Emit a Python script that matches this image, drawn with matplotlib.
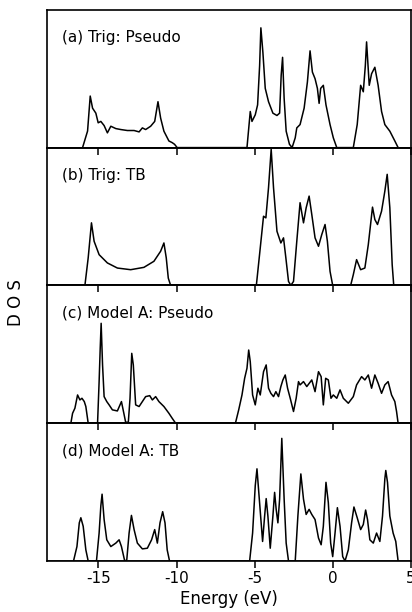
import matplotlib

matplotlib.use("Agg")
import matplotlib.pyplot as plt

plt.rcParams["axes.unicode_minus"] = False


# energies (eV) and DOS (fraction of panel height)
trig_pseudo_e = [
    -16.02, -15.7, -15.53, -15.38, -15.17, -15.02, -14.85, -14.64, -14.43, -14.21,
    -13.89, -13.57, -13.15, -12.72, -12.4, -12.19, -11.98, -11.66, -11.4, -11.19,
    -11.02, -10.81, -10.49, -10.28, -10.13, -9.96,
    -5.49, -5.28, -5.17, -4.96, -4.81, -4.68, -4.6, -4.47, -4.32, -4.11,
    -3.83, -3.57, -3.4, -3.3, -3.21, -3.11, -2.98, -2.77, -2.6, -2.4,
    -2.3, -2.09, -1.83, -1.62, -1.45, -1.3, -1.13, -0.98, -0.87, -0.77,
    -0.6, -0.43, -0.17, 0.04, 0.26, 1.32, 1.57, 1.79, 1.96, 2.09,
    2.17, 2.34, 2.49, 2.7, 2.91, 3.13, 3.34, 3.66, 3.98, 4.19,
]
trig_pseudo_dos = [
    0.0, 0.12, 0.374, 0.286, 0.25, 0.18, 0.19, 0.16, 0.107, 0.155,
    0.138, 0.131, 0.124, 0.124, 0.114, 0.143, 0.131, 0.155, 0.19, 0.333,
    0.214, 0.119, 0.048, 0.036, 0.024, 0.0,
    0.0, 0.262, 0.19, 0.238, 0.31, 0.595, 0.869, 0.69, 0.43, 0.333,
    0.25, 0.233, 0.25, 0.524, 0.655, 0.357, 0.119, 0.024, 0.0, 0.071,
    0.143, 0.167, 0.286, 0.476, 0.702, 0.548, 0.5, 0.43, 0.321, 0.43,
    0.452, 0.31, 0.167, 0.071, 0.0, 0.0, 0.167, 0.452, 0.405, 0.595,
    0.767, 0.452, 0.536, 0.583, 0.452, 0.262, 0.167, 0.119, 0.048, 0.0,
]

trig_tb_e = [
    -15.87, -15.66, -15.45, -15.28, -14.96, -14.43, -13.79, -12.94, -12.09, -11.45,
    -11.02, -10.81, -10.66, -10.53, -10.38,
    -4.89, -4.64, -4.43, -4.28, -4.11, -3.94, -3.79, -3.57, -3.32, -3.15,
    -3.0, -2.83, -2.68, -2.51, -2.3, -2.09, -1.87, -1.7, -1.51, -1.34,
    -1.13, -0.91, -0.7, -0.49, -0.34, -0.17, 0.0,
    1.15, 1.32, 1.53, 1.79, 2.06, 2.28, 2.55, 2.7, 2.87, 3.13,
    3.34, 3.49, 3.66, 3.81, 3.91,
]
trig_tb_dos = [
    0.0, 0.2, 0.454, 0.32, 0.223, 0.163, 0.126, 0.114, 0.131, 0.175,
    0.248, 0.308, 0.2, 0.053, 0.0,
    0.0, 0.272, 0.502, 0.49, 0.709, 0.988, 0.709, 0.393, 0.308, 0.345,
    0.2, 0.029, 0.0, 0.029, 0.32, 0.6, 0.454, 0.563, 0.648, 0.515,
    0.345, 0.284, 0.369, 0.442, 0.32, 0.102, 0.0,
    0.0, 0.078, 0.187, 0.114, 0.126, 0.296, 0.568, 0.478, 0.442, 0.539,
    0.684, 0.806, 0.563, 0.15, 0.0,
]

model_pseudo_e = [
    -16.77, -16.66, -16.51, -16.34, -16.19, -16.06, -15.91, -15.81, -15.66,
    -15.06, -14.96, -14.89, -14.83, -14.74, -14.64, -14.47, -14.32, -14.11, -13.79,
    -13.53, -13.4, -13.26, -13.09, -12.98, -12.87, -12.77, -12.62, -12.4, -12.19,
    -11.98, -11.72, -11.55, -11.34, -11.13, -10.81, -10.49, -10.28, -10.06,
    -6.23, -6.02, -5.81, -5.64, -5.49, -5.38, -5.28, -5.13, -4.96, -4.79,
    -4.64, -4.43, -4.26, -4.11, -3.96, -3.79, -3.64, -3.47, -3.32, -3.19,
    -3.04, -2.89, -2.72, -2.51, -2.34, -2.19, -2.09, -1.87, -1.66, -1.34,
    -1.13, -0.91, -0.74, -0.6, -0.45, -0.28, -0.11, 0.04, 0.26, 0.47,
    0.68, 1.0, 1.32, 1.53, 1.85, 2.06, 2.28, 2.49, 2.7, 2.91,
    3.13, 3.34, 3.55, 3.77, 3.98, 4.09, 4.19,
]
model_pseudo_dos = [
    0.0, 0.072, 0.109, 0.205, 0.169, 0.181, 0.157, 0.121, 0.0,
    0.0, 0.302, 0.543, 0.725, 0.423, 0.193, 0.157, 0.133, 0.097, 0.089,
    0.157, 0.085, 0.007, 0.007, 0.181, 0.507, 0.423, 0.133, 0.121, 0.157,
    0.193, 0.2, 0.169, 0.193, 0.157, 0.121, 0.072, 0.036, 0.0,
    0.0, 0.097, 0.205, 0.326, 0.399, 0.531, 0.447, 0.205, 0.133, 0.254,
    0.205, 0.374, 0.423, 0.254, 0.217, 0.193, 0.229, 0.193, 0.266, 0.314,
    0.35, 0.254, 0.181, 0.085, 0.181, 0.302, 0.278, 0.302, 0.266, 0.314,
    0.229, 0.374, 0.338, 0.133, 0.326, 0.314, 0.181, 0.205, 0.181, 0.242,
    0.181, 0.145, 0.193, 0.278, 0.338, 0.314, 0.35, 0.254, 0.35, 0.29,
    0.217, 0.278, 0.302, 0.205, 0.157, 0.085, 0.0,
]

model_tb_e = [
    -16.6, -16.38, -16.23, -16.13, -15.98, -15.81, -15.66,
    -15.13, -14.96, -14.85, -14.77, -14.64, -14.47, -14.21, -13.89, -13.68, -13.53,
    -13.32, -13.19, -13.04, -12.89, -12.72, -12.51, -12.19, -11.87, -11.6, -11.4,
    -11.23, -11.06, -10.89, -10.74, -10.6, -10.45,
    -5.32, -5.13, -4.96, -4.85, -4.7, -4.49, -4.36, -4.26, -4.15, -4.0,
    -3.83, -3.72, -3.62, -3.51, -3.4, -3.26, -3.11, -2.98, -2.83,
    -2.4, -2.23, -2.04, -1.87, -1.7, -1.51, -1.34, -1.13, -0.91, -0.74,
    -0.6, -0.43, -0.28, -0.13, 0.0, 0.15, 0.3, 0.47, 0.64, 0.79,
    1.0, 1.21, 1.36, 1.57, 1.79, 1.96, 2.11, 2.23, 2.38, 2.6,
    2.81, 3.02, 3.19, 3.34, 3.4, 3.51, 3.66, 3.87, 4.04, 4.19,
]
model_tb_dos = [
    0.0, 0.105, 0.277, 0.314, 0.252, 0.081, 0.0,
    0.0, 0.203, 0.4, 0.485, 0.301, 0.154, 0.105, 0.13, 0.154, 0.105,
    0.0, 0.007, 0.203, 0.331, 0.228, 0.13, 0.088, 0.093, 0.154, 0.228,
    0.13, 0.277, 0.358, 0.277, 0.081, 0.0,
    0.0, 0.203, 0.547, 0.669, 0.449, 0.142, 0.326, 0.453, 0.326, 0.093,
    0.326, 0.498, 0.375, 0.277, 0.449, 0.89, 0.449, 0.13, 0.0,
    0.0, 0.326, 0.632, 0.449, 0.338, 0.375, 0.338, 0.301, 0.167, 0.118,
    0.252, 0.571, 0.424, 0.13, 0.032, 0.203, 0.387, 0.252, 0.032, 0.0,
    0.081, 0.277, 0.392, 0.314, 0.228, 0.265, 0.37, 0.301, 0.154, 0.13,
    0.203, 0.142, 0.326, 0.596, 0.657, 0.571, 0.326, 0.203, 0.142, 0.0,
]

panel_titles = ["(a) Trig: Pseudo", "(b) Trig: TB", "(c) Model A: Pseudo", "(d) Model A: TB"]
energy_ticks = [-15, -10, -5, 0, 5]


def main():
    fig = plt.figure(figsize=(4.12, 6.12), dpi=100)
    gs = fig.add_gridspec(4, 1, left=0.114, right=0.997, bottom=0.0833, top=0.984, hspace=0)
    series = [
        (trig_pseudo_e, trig_pseudo_dos),
        (trig_tb_e, trig_tb_dos),
        (model_pseudo_e, model_pseudo_dos),
        (model_tb_e, model_tb_dos),
    ]
    axes = []
    for i, ((e, dos), title) in enumerate(zip(series, panel_titles)):
        ax = fig.add_subplot(gs[i, 0])
        ax.patch.set_visible(False)
        ax.plot(e, dos, color="black", lw=1.1)
        # flat baseline across the whole panel
        ax.axhline(0, color="black", lw=1.1)
        ax.set_xlim(-18.3, 5.0)
        ax.set_ylim(0, 1)
        ax.set_yticks([])
        ax.set_xticks(energy_ticks)
        ax.tick_params(axis="x", direction="out", length=5, width=1.1, labelsize=11, pad=2)
        if i < 3:
            ax.tick_params(labelbottom=False)
        for sp in ax.spines.values():
            sp.set_linewidth(1.2)
        ax.text(0.04, 0.8, title, transform=ax.transAxes, fontsize=11, va="center", ha="left")
        axes.append(ax)

    axes[-1].set_xlabel("Energy (eV)", fontsize=12, labelpad=3)
    fig.text(0.038, 0.505, "D O S", rotation=90, fontsize=12, va="center", ha="center")
    fig.savefig("out.png", dpi=100)
    plt.close(fig)


if __name__ == "__main__":
    main()
